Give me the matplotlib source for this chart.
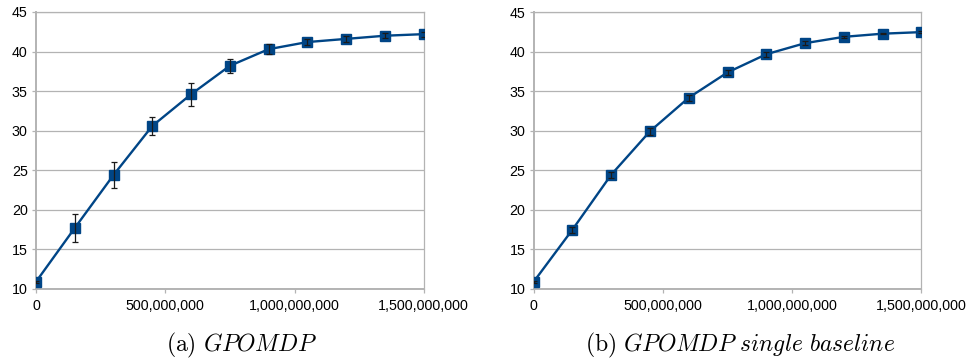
import matplotlib.pyplot as plt
from matplotlib.ticker import FuncFormatter

# samples (x axis), same for both runs
steps = [0, 150e6, 300e6, 450e6, 600e6, 750e6, 900e6, 1050e6, 1200e6, 1350e6, 1500e6]

# (a) GPOMDP
gp_mean = [10.9, 17.7, 24.4, 30.6, 34.6, 38.2, 40.3, 41.2, 41.6, 42.0, 42.2]
gp_err = [0.15, 1.8, 1.7, 1.15, 1.45, 0.9, 0.6, 0.4, 0.4, 0.35, 0.3]

# (b) GPOMDP single baseline
sb_mean = [10.9, 17.5, 24.45, 29.95, 34.2, 37.4, 39.7, 41.1, 41.9, 42.3, 42.5]
sb_err = [0.15, 0.4, 0.4, 0.45, 0.4, 0.35, 0.3, 0.25, 0.15, 0.1, 0.1]

captions = [r"$\mathrm{(a)}\ \mathit{GPOMDP}$",
            r"$\mathrm{(b)}\ \mathit{GPOMDP\ single\ baseline}$"]

plt.rcParams['font.family'] = ['Liberation Sans', 'DejaVu Sans']
plt.rcParams['mathtext.fontset'] = 'cm'

blue = "#004586"
grey = "#b3b3b3"

fig = plt.figure(figsize=(9.72, 3.63), dpi=100)
ax1 = fig.add_axes([0.037, 0.204, 0.399, 0.763])
ax2 = fig.add_axes([0.549, 0.204, 0.399, 0.762])


def draw(ax, mean, err):
    ax.plot(steps, mean, color=blue, linewidth=1.7, marker="s", markersize=6.8,
            markeredgecolor=blue, zorder=3)
    ax.errorbar(steps, mean, yerr=err, fmt="none", ecolor="#1a1a1a",
                elinewidth=0.9, capsize=2.3, capthick=0.9, zorder=4)
    ax.set_xlim(0, 1.5e9)
    ax.set_ylim(10, 45)
    ax.set_yticks(range(10, 46, 5))
    ax.set_xticks([0, 5e8, 1e9, 1.5e9])
    ax.xaxis.set_major_formatter(FuncFormatter(lambda v, p: f"{int(v):,}"))
    ax.grid(axis="y", color=grey, linewidth=0.9)
    ax.set_axisbelow(True)
    for name, s in ax.spines.items():
        s.set_color(grey)
        s.set_linewidth(1.4 if name in ("left", "bottom") else 0.9)
    ax.tick_params(axis="both", colors=grey, labelcolor="black", labelsize=10.3,
                   length=3, width=0.9)
    ax.tick_params(axis="x", pad=4)
    ax.tick_params(axis="y", pad=3)
    ax.patch.set_facecolor("white")


draw(ax1, gp_mean, gp_err)
draw(ax2, sb_mean, sb_err)

fig.text(0.248, 0.047, captions[0], ha="center", va="center", fontsize=17)
fig.text(0.761, 0.047, captions[1], ha="center", va="center", fontsize=17)

fig.savefig("out.png", dpi=100)
